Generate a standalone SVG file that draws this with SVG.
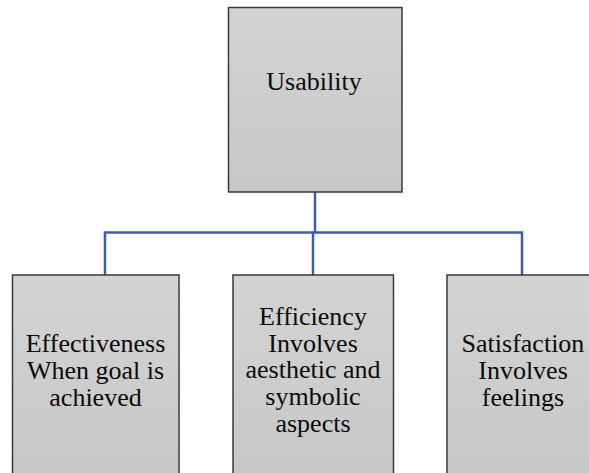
<svg xmlns="http://www.w3.org/2000/svg" width="589" height="473" viewBox="0 0 589 473">
<defs>
<linearGradient id="g" x1="0" y1="0" x2="0" y2="1">
<stop offset="0" stop-color="#d4d4d4"/>
<stop offset="1" stop-color="#c7c7c7"/>
</linearGradient>
<style>
.box{fill:url(#g);stroke:#3a3a3a;stroke-width:1.5}
.t{font-family:'Liberation Serif','Times New Roman',serif;font-size:26px;fill:#0a0a0a;text-anchor:middle}
.c{fill:none;stroke:#3a5fa5;stroke-width:2.5}
</style>
</defs>
<rect width="589" height="473" fill="#fff"/>
<g id="connectors">
<path class="c" d="M315 192 V232.5"/>
<path class="c" d="M105 275 V232.5 H522 V275"/>
<path class="c" d="M313 232.5 V275"/>
</g>
<g id="usability">
<rect class="box" x="228.5" y="7.5" width="173.5" height="184.5"/>
<text class="t" x="314" y="89.5">Usability</text>
</g>
<g id="effectiveness">
<rect class="box" x="12.5" y="275" width="166.5" height="202"/>
<text class="t" x="95.5" y="351.5">Effectiveness</text>
<text class="t" x="95.5" y="378.5">When goal is</text>
<text class="t" x="95.5" y="405.5">achieved</text>
</g>
<g id="efficiency">
<rect class="box" x="233" y="275" width="160.5" height="202"/>
<text class="t" x="313" y="324.5">Efficiency</text>
<text class="t" x="313" y="351.5">Involves</text>
<text class="t" x="313" y="378">aesthetic and</text>
<text class="t" x="313" y="405">symbolic</text>
<text class="t" x="313" y="432">aspects</text>
</g>
<g id="satisfaction">
<rect class="box" x="447" y="275" width="155" height="202"/>
<text class="t" x="523" y="351.5">Satisfaction</text>
<text class="t" x="523" y="378.5">Involves</text>
<text class="t" x="523" y="405.5">feelings</text>
</g>
</svg>
